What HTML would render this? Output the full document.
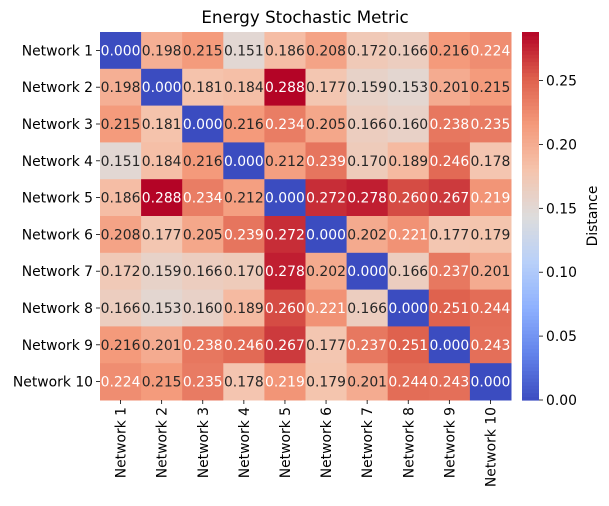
<!DOCTYPE html><html><head><meta charset="utf-8"><style>
body{margin:0;background:#fff;}
text{font-family:"DejaVu Sans","Liberation Sans",sans-serif;}
</style></head><body>
<svg id="c" width="609" height="501" xmlns="http://www.w3.org/2000/svg">
<text x="305" y="23" text-anchor="middle" font-size="16.7" fill="#000">Energy Stochastic Metric</text>
</svg>
<script>
const labels=["Network 1","Network 2","Network 3","Network 4","Network 5","Network 6","Network 7","Network 8","Network 9","Network 10"];
const row0=[0.000,0.198,0.215,0.151,0.186,0.208,0.172,0.166,0.216,0.224];
const row1=[0.198,0.000,0.181,0.184,0.288,0.177,0.159,0.153,0.201,0.215];
const row2=[0.215,0.181,0.000,0.216,0.234,0.205,0.166,0.160,0.238,0.235];
const row3=[0.151,0.184,0.216,0.000,0.212,0.239,0.170,0.189,0.246,0.178];
const row4=[0.186,0.288,0.234,0.212,0.000,0.272,0.278,0.260,0.267,0.219];
const row5=[0.208,0.177,0.205,0.239,0.272,0.000,0.202,0.221,0.177,0.179];
const row6=[0.172,0.159,0.166,0.170,0.278,0.202,0.000,0.166,0.237,0.201];
const row7=[0.166,0.153,0.160,0.189,0.260,0.221,0.166,0.000,0.251,0.244];
const row8=[0.216,0.201,0.238,0.246,0.267,0.177,0.237,0.251,0.000,0.243];
const row9=[0.224,0.215,0.235,0.178,0.219,0.179,0.201,0.244,0.243,0.000];
const cbTicks=[0.00,0.05,0.10,0.15,0.20,0.25];
const rows=[row0,row1,row2,row3,row4,row5,row6,row7,row8,row9];
const vmin=0,vmax=0.288;
const L=100,R=511,T=32,B=400;
const cw=(R-L)/10,ch=(B-T)/10;
const FS=13.9;
const stops=[[0,59,76,192],[0.125,98,130,234],[0.25,141,176,254],[0.375,184,208,249],[0.5,221,220,220],[0.625,245,196,173],[0.75,244,154,123],[0.875,222,96,77],[1,180,4,38]];
function cmap(v){let t=Math.max(0,Math.min(1,(v-vmin)/(vmax-vmin)));
for(let i=1;i<stops.length;i++){if(t<=stops[i][0]){const a=stops[i-1],b=stops[i],f=(t-a[0])/(b[0]-a[0]);
return [1,2,3].map(k=>Math.round(a[k]+(b[k]-a[k])*f));}}return [180,4,38];}
const NS="http://www.w3.org/2000/svg",svg=document.getElementById('c');
function el(tag,attrs,parent){const e=document.createElementNS(NS,tag);for(const k in attrs)e.setAttribute(k,attrs[k]);(parent||svg).appendChild(e);return e;}
function cy(v){return B-(v-vmin)/(vmax-vmin)*(B-T);}
rows.forEach((r,i)=>r.forEach((v,j)=>{
 const c=cmap(v);
 const rc=el('rect',{x:L+j*cw,y:T+i*ch,width:cw+0.5,height:ch+0.5,fill:`rgb(${c})`});
 
 
 const white=v>0.218||v<0.05;
 const t=el('text',{x:L+(j+0.5)*cw,y:T+(i+0.5)*ch+5,'text-anchor':'middle','font-size':FS,fill:white?'#fff':'#262626'});
 t.textContent=v.toFixed(3);
 
 
}));
labels.forEach((s,i)=>{
 el('line',{x1:L-4,x2:L,y1:T+(i+0.5)*ch,y2:T+(i+0.5)*ch,stroke:'#000','stroke-width':0.8});
 const t=el('text',{x:L-7,y:T+(i+0.5)*ch+5,'text-anchor':'end','font-size':FS,fill:'#000'});
 t.textContent=s;
 
 
 const x=L+(i+0.5)*cw;
 el('line',{x1:x,x2:x,y1:B,y2:B+4,stroke:'#000','stroke-width':0.8});
 const u=el('text',{x:0,y:0,'text-anchor':'end','font-size':FS,fill:'#000',transform:`translate(${x+5},${B+7}) rotate(-90)`});
 u.textContent=s;
 
 
});
const cbx=522,cbw=17;
const N=100;
for(let k=0;k<N;k++){const v=vmin+(vmax-vmin)*k/N;const c=cmap(v+(vmax-vmin)/(2*N));
 const r=el('rect',{x:cbx,y:cy(v+(vmax-vmin)/N),width:cbw,height:(B-T)/N+0.6,fill:`rgb(${c})`});
 
 }
cbTicks.forEach(v=>{const y=cy(v);
 el('line',{x1:cbx+cbw,x2:cbx+cbw+4,y1:y,y2:y,stroke:'#000','stroke-width':0.8});
 const t=el('text',{x:cbx+cbw+7,y:y+5,'font-size':FS,fill:'#000'});
 t.textContent=v.toFixed(2);
 
 });
const d=el('text',{x:0,y:0,'text-anchor':'middle','font-size':FS,fill:'#000',transform:`translate(597,${(T+B)/2}) rotate(-90)`});
d.textContent='Distance';


</script>
</body></html>
